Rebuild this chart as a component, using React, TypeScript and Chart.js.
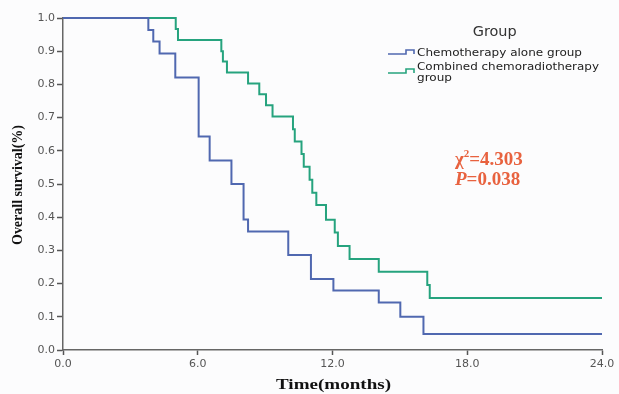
import React, { useEffect, useRef } from "react";
import { Chart, registerables } from "chart.js";

Chart.register(...registerables);

// Kaplan–Meier step data (time in months, survival proportion)
const chemoTimes = [0, 3.8, 4.02, 4.3, 5.0, 6.04, 6.53, 7.5, 8.04, 8.24, 10.03, 11.04, 12.04, 14.06, 15.02, 16.05, 24];
const chemoSurv = [1, 0.964, 0.929, 0.893, 0.821, 0.643, 0.571, 0.5, 0.393, 0.357, 0.286, 0.214, 0.179, 0.143, 0.1, 0.048, 0.048];

const comboTimes = [0, 5.02, 5.12, 7.05, 7.12, 7.3, 8.24, 8.74, 9.04, 9.33, 10.24, 10.32, 10.62, 10.72, 10.98, 11.1, 11.28, 11.71, 12.1, 12.24, 12.76, 14.06, 16.22, 16.33, 24];
const comboSurv = [1, 0.967, 0.934, 0.9, 0.869, 0.836, 0.803, 0.77, 0.737, 0.703, 0.665, 0.628, 0.59, 0.552, 0.513, 0.474, 0.437, 0.392, 0.354, 0.313, 0.274, 0.236, 0.196, 0.157, 0.157];

const seriesNames = ["Chemotherapy alone group", "Combined chemoradiotherapy", "group"];
const legendTitle = "Group";
const xTitle = "Time(months)";
const yTitle = "Overall survival(%)";
const chiValue = "4.303";
const pValue = "0.038";

const BLUE = "#5068b0";
const GREEN = "#26a37e";
const RED = "#e8623f";

function fitText(ctx: CanvasRenderingContext2D, text: string, x: number, y: number, width: number, font: string, color: string, align: CanvasTextAlign = "left") {
  ctx.save();
  ctx.font = font;
  ctx.fillStyle = color;
  ctx.textBaseline = "middle";
  const w = ctx.measureText(text).width;
  const s = width / w;
  ctx.translate(x, y);
  ctx.scale(s, 1);
  ctx.textAlign = align;
  ctx.fillText(text, 0, 0);
  ctx.restore();
}

const decorPlugin = {
  id: "decor",
  beforeDraw(chart: any) {
    const ctx = chart.ctx;
    ctx.save();
    ctx.fillStyle = "#fcfcfd";
    ctx.fillRect(0, 0, chart.width, chart.height);
    ctx.restore();
  },
  afterDraw(chart: any) {
    const ctx: CanvasRenderingContext2D = chart.ctx;
    // axis titles
    fitText(ctx, xTitle, 333.5, 385, 115, "bold 14px 'Liberation Serif'", "#111", "center");
    ctx.save();
    ctx.translate(18, 185);
    ctx.rotate(-Math.PI / 2);
    fitText(ctx, yTitle, 0, 0, 120, "bold 14px 'Liberation Serif'", "#111", "center");
    ctx.restore();

    // legend
    fitText(ctx, legendTitle, 494.7, 32, 44, "14px 'DejaVu Sans'", "#333", "center");
    const icon = (y: number, color: string) => {
      ctx.save();
      ctx.strokeStyle = color;
      ctx.lineWidth = 1.6;
      ctx.beginPath();
      ctx.moveTo(388, y);
      ctx.lineTo(406, y);
      ctx.lineTo(406, y - 4);
      ctx.lineTo(414, y - 4);
      ctx.lineTo(414, y);
      ctx.stroke();
      ctx.restore();
    };
    icon(54, BLUE);
    icon(73, GREEN);
    fitText(ctx, seriesNames[0], 417, 53, 165, "11px 'DejaVu Sans'", "#222");
    fitText(ctx, seriesNames[1], 417, 67.5, 182, "11px 'DejaVu Sans'", "#222");
    fitText(ctx, seriesNames[2], 417, 78.5, 35, "11px 'DejaVu Sans'", "#222");

    // statistics annotation
    ctx.save();
    ctx.fillStyle = RED;
    ctx.textBaseline = "alphabetic";
    ctx.textAlign = "left";
    ctx.font = "bold 19px 'Liberation Serif'";
    ctx.fillText("\u03c7", 455, 165);
    const chiW = ctx.measureText("\u03c7").width;
    ctx.font = "bold 11px 'Liberation Serif'";
    ctx.fillText("2", 455 + chiW, 157);
    const supW = ctx.measureText("2").width;
    ctx.font = "bold 19px 'Liberation Serif'";
    ctx.fillText("=" + chiValue, 455 + chiW + supW, 165);
    ctx.font = "italic bold 19px 'Liberation Serif'";
    ctx.fillText("P", 455, 185);
    const pW = ctx.measureText("P").width;
    ctx.font = "bold 19px 'Liberation Serif'";
    ctx.fillText("=" + pValue, 455 + pW, 185);
    ctx.restore();
  },
};

export default function App() {
  const ref = useRef<HTMLCanvasElement | null>(null);
  useEffect(() => {
    if (!ref.current) return;
    const chart = new Chart(ref.current, {
      type: "line",
      data: {
        datasets: [
          {
            label: seriesNames[0],
            data: chemoTimes.map((t, i) => ({ x: t, y: chemoSurv[i] })),
            borderColor: BLUE,
            borderWidth: 2,
            stepped: "before",
            pointRadius: 0,
            fill: false,
            clip: false,
          } as any,
          {
            label: seriesNames[1] + " " + seriesNames[2],
            data: comboTimes.map((t, i) => ({ x: t, y: comboSurv[i] })),
            borderColor: GREEN,
            borderWidth: 2,
            stepped: "before",
            pointRadius: 0,
            fill: false,
            clip: false,
          } as any,
        ],
      },
      options: {
        responsive: false,
        animation: false,
        devicePixelRatio: 1,
        layout: { padding: { top: 18, right: 17, left: 0, bottom: 0 } },
        plugins: { legend: { display: false }, tooltip: { enabled: false } },
        scales: {
          x: {
            type: "linear",
            min: 0,
            max: 24,
            afterFit: (s: any) => { s.height = 44; },
            border: { color: "#666", width: 1.5 },
            grid: { drawOnChartArea: false, tickLength: 5, color: "#555", tickWidth: 1.5 },
            ticks: {
              stepSize: 6,
              padding: 3,
              color: "#555",
              font: { family: "'DejaVu Sans'", size: 11 },
              callback: (v: any) => Number(v).toFixed(1),
              maxRotation: 0,
            },
          },
          y: {
            min: 0,
            max: 1,
            afterFit: (s: any) => { s.width = 63; },
            border: { color: "#666", width: 1.5 },
            grid: { drawOnChartArea: false, tickLength: 6, color: "#555", tickWidth: 1.5 },
            ticks: {
              stepSize: 0.1,
              padding: 2,
              color: "#555",
              font: { family: "'DejaVu Sans'", size: 11 },
              callback: (v: any) => Number(v).toFixed(1),
            },
          },
        },
      },
      plugins: [decorPlugin],
    } as any);
    return () => chart.destroy();
  }, []);
  return (
    <div style={{ position: "absolute", left: 0, top: 0, width: 619, height: 394 }}>
      <canvas ref={ref} width={619} height={394} style={{ display: "block" }} />
    </div>
  );
}
